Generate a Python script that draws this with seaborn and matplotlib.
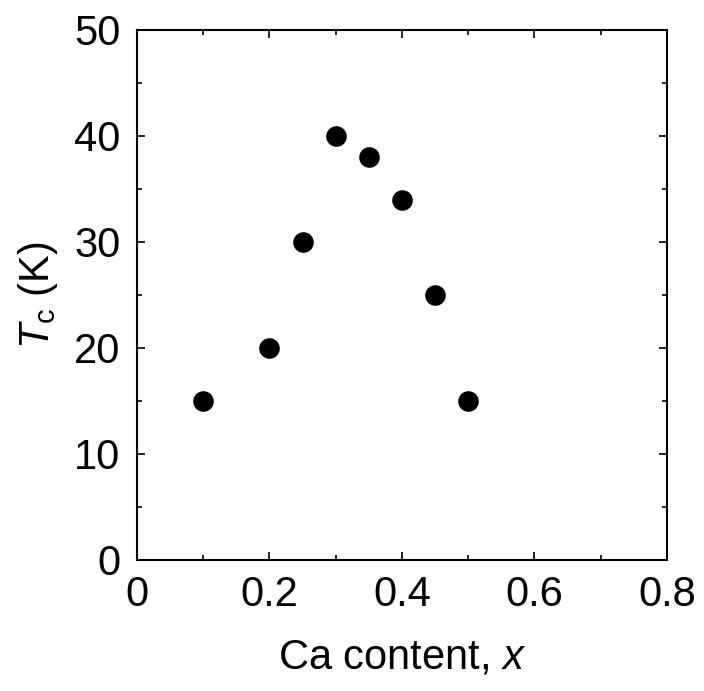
import matplotlib
matplotlib.use("Agg")
import matplotlib.pyplot as plt
import seaborn as sns
import pandas as pd
from matplotlib.ticker import MultipleLocator

ca_content = [0.10, 0.20, 0.25, 0.30, 0.35, 0.40, 0.45, 0.50]
tc_values = [15, 20, 30, 40, 38, 34, 25, 15]

sns.set_theme(style="ticks")
plt.rcParams['font.family'] = ['Liberation Sans', 'DejaVu Sans']
plt.rcParams['mathtext.fontset'] = 'custom'
plt.rcParams['mathtext.rm'] = 'Liberation Sans'
plt.rcParams['mathtext.it'] = 'Liberation Sans:italic'

df = pd.DataFrame({"x": ca_content, "Tc": tc_values})

fig = plt.figure(figsize=(7.04, 6.91), dpi=100)
ax = fig.add_axes([0.1946, 0.1896, 0.7528, 0.767])
sns.scatterplot(data=df, x="x", y="Tc", ax=ax, color="black", s=220,
                edgecolor="black", linewidth=0, zorder=3)

ax.set_xlim(0, 0.8)
ax.set_ylim(0, 50)
ax.xaxis.set_minor_locator(MultipleLocator(0.1))
ax.yaxis.set_minor_locator(MultipleLocator(5))
ax.set_xticks([0, 0.2, 0.4, 0.6, 0.8])
ax.set_xticklabels(["0", "0.2", "0.4", "0.6", "0.8"])
ax.set_yticks([0, 10, 20, 30, 40, 50])
ax.set_yticklabels(["0", "10", "20", "30", "40", "50"])

for s in ax.spines.values():
    s.set_visible(True)
    s.set_linewidth(1.5)
    s.set_color("black")

ax.tick_params(which="both", direction="in", top=True, right=True,
               colors="black", labelsize=30, width=1.2)
ax.tick_params(which="major", length=6)
ax.tick_params(which="minor", length=3.8)
ax.tick_params(axis="x", which="major", pad=11)
ax.tick_params(axis="y", which="major", pad=12)

ax.set_xlabel(r"Ca content, $x$", fontsize=30, labelpad=16, color="black")
ax.set_ylabel(r"$T_\mathrm{c}$ (K)", fontsize=30, labelpad=10, color="black")

fig.savefig("out.png", dpi=100)
